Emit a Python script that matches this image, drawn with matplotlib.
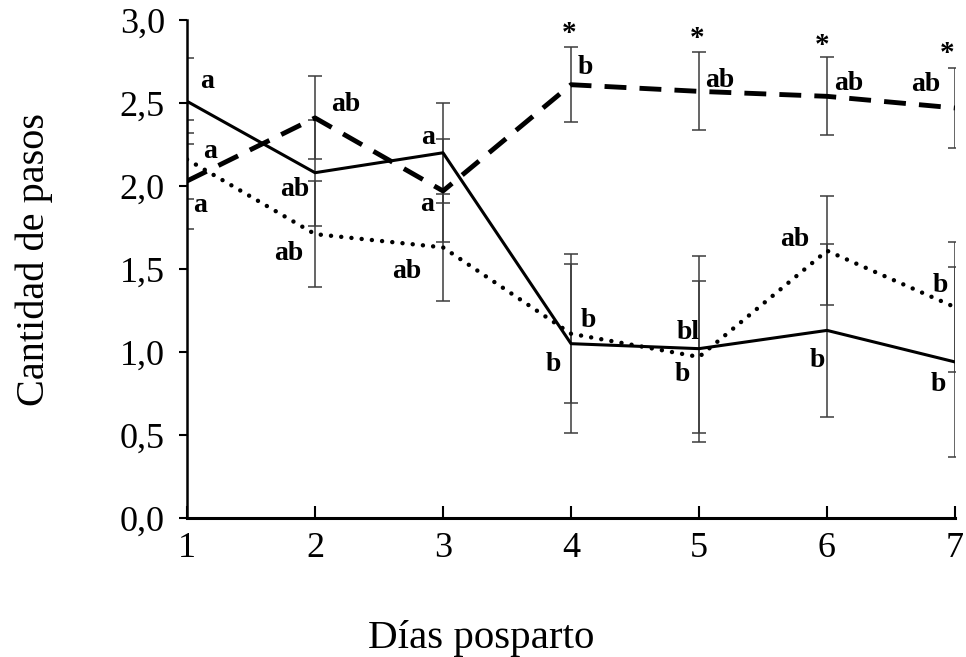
import numpy as np
import matplotlib
matplotlib.use('Agg')
import matplotlib.pyplot as plt

#*********************************** DATA **************************************
days = [1, 2, 3, 4, 5, 6, 7]

solid_mean = [2.51, 2.08, 2.20, 1.05, 1.02, 1.13, 0.94]
solid_err = [0.26, 0.32, 0.30, 0.54, 0.56, 0.52, 0.57]
dashed_mean = [2.03, 2.41, 1.97, 2.61, 2.57, 2.54, 2.47]
dashed_err = [0.29, 0.25, 0.31, 0.225, 0.235, 0.235, 0.24]
dotted_mean = [2.16, 1.71, 1.63, 1.11, 0.97, 1.61, 1.27]
dotted_err = [0.24, 0.32, 0.32, 0.42, 0.46, 0.33, 0.39]

solid_letters = ['a', 'ab', 'a', 'b', 'bl', 'b', 'b']
dashed_letters = ['a', 'ab', 'a', 'b', 'ab', 'ab', 'ab']
dotted_letters = ['a', 'ab', 'ab', 'b', 'b', 'ab', 'b']
star_days = [4, 5, 6, 7]

yticks = [0.0, 0.5, 1.0, 1.5, 2.0, 2.5, 3.0]
ytick_labels = ['0,0', '0,5', '1,0', '1,5', '2,0', '2,5', '3,0']

# label offsets from each point, in pixels
solid_off = [(20, 23), (-20, -14), (-15, 18), (-18, -18), (-11, 19), (-10, -27), (-17, -20)]
dashed_off = [(13, -22), (31, 16), (-16, -11), (14, 20), (21, 14), (22, 16), (-29, 26)]
dotted_off = [(23, 11), (-26, -16), (-36, -21), (17, 16), (-17, -15), (-32, 14), (-15, 25)]
star_off = [(-2, 51), (-2, 53), (-5, 51), (-8, 54)]

#*********************************** PLOT **************************************
plt.rcParams['font.family'] = ['Liberation Serif', 'DejaVu Serif']

fig = plt.figure(figsize=(9.66, 6.57), dpi=100)
ax = fig.add_axes([0.1936, 0.2116, 0.7950, 0.7580])

for mean, err in [(solid_mean, solid_err), (dashed_mean, dashed_err), (dotted_mean, dotted_err)]:
    ax.errorbar(days, mean, yerr=err, fmt='none', ecolor='#3c3c3c', elinewidth=1.1,
                capsize=5, capthick=1.1, zorder=2)

ax.plot(days, solid_mean, color='black', lw=2.2, zorder=3)
ax.plot(days, dashed_mean, color='black', lw=3.5, linestyle=(0, (4.5, 2.7)), zorder=3)
ax.plot(days, dotted_mean, color='black', lw=3.2, linestyle=(0, (0.01, 2.3)),
        dash_capstyle='round', zorder=3)

for mean, letters, offs in [(solid_mean, solid_letters, solid_off),
                            (dashed_mean, dashed_letters, dashed_off),
                            (dotted_mean, dotted_letters, dotted_off)]:
    for d, m, t, o in zip(days, mean, letters, offs):
        ax.annotate(t, (d, m), xytext=o, textcoords='offset pixels', ha='center',
                    va='center_baseline', fontsize=20, fontweight='bold', annotation_clip=False)

for d, o in zip(star_days, star_off):
    ax.annotate('*', (d, dashed_mean[d - 1]), xytext=o, textcoords='offset pixels',
                ha='center', va='center', fontsize=21, fontweight='bold', annotation_clip=False)

ax.set_xlim(1, 7)
ax.set_ylim(0, 3)
ax.set_xticks(days)
ax.set_yticks(yticks)
ax.set_yticklabels(ytick_labels)
ax.spines['top'].set_visible(False)
ax.spines['right'].set_visible(False)
ax.spines['left'].set_linewidth(1.8)
ax.spines['bottom'].set_linewidth(2.2)
ax.tick_params(axis='x', direction='in', length=9, width=1.5, labelsize=26, pad=10)
ax.tick_params(axis='y', direction='out', length=6, width=1.5, labelsize=26, pad=10)
ax.set_xlabel('Días posparto', fontsize=29.5, labelpad=40)
ax.set_ylabel('Cantidad de pasos', fontsize=29, labelpad=48)
# axis titles sit centred on the chart, not on the plot area
ax.xaxis.set_label_coords(0.383, -0.205)
ax.yaxis.label.set_y(0.52)

fig.savefig('out.png', dpi=100)
